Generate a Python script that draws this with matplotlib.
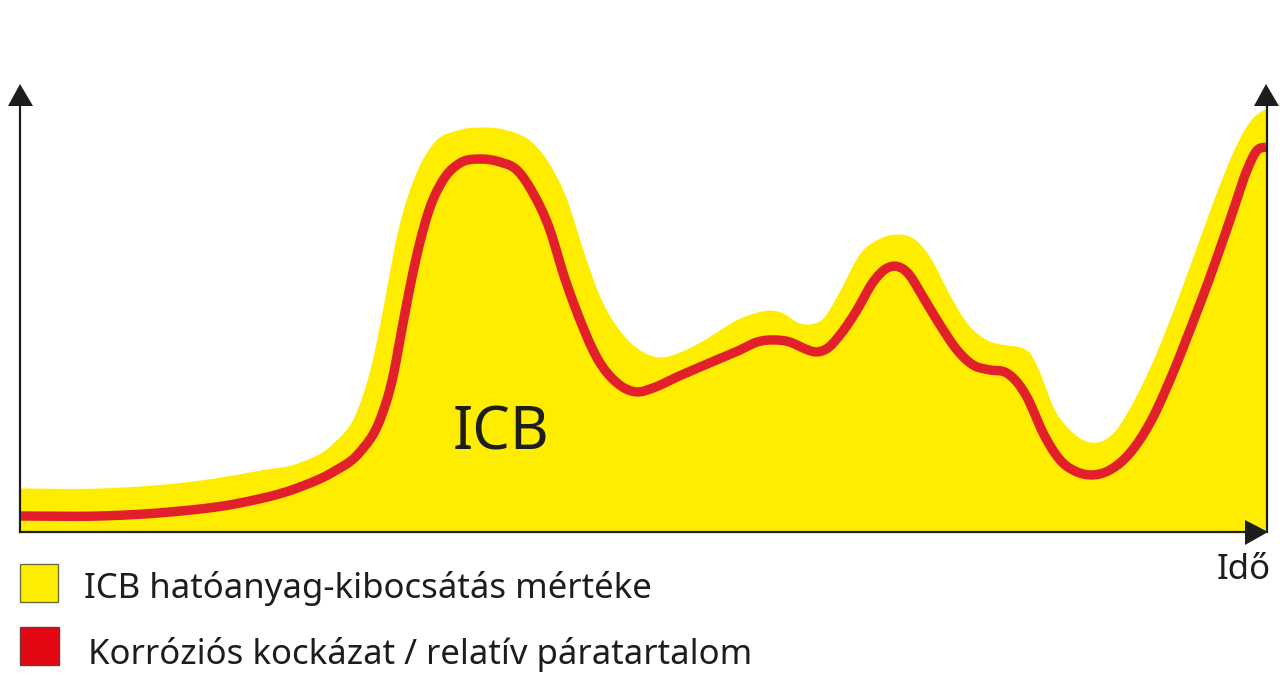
import numpy as np
import matplotlib
matplotlib.use("Agg")
from matplotlib import pyplot as plt
from matplotlib.patches import Rectangle

# values, x = time, y = height above the axis (pixel-like units)
yellow_x = [20, 100, 200, 260, 300, 333, 357, 373, 383, 397, 413, 433, 457, 480, 507, 533, 553, 567, 583, 600, 617, 637, 660, 677, 700, 740, 757, 770, 783, 797, 810, 823, 840, 860, 880, 897, 913, 930, 947, 967, 987, 1007, 1020, 1030, 1040, 1053, 1070, 1097, 1113, 1130, 1153, 1177, 1200, 1220, 1240, 1253, 1266]
yellow_y = [44, 44, 52, 62, 70, 89, 122, 175, 225, 299, 352, 389, 402, 405, 402, 389, 362, 332, 282, 235, 205, 184, 175, 179, 190, 214, 220, 222, 219, 210, 208, 214, 242, 279, 294, 298, 294, 275, 242, 209, 192, 187, 185, 179, 159, 125, 102, 90, 99, 125, 172, 232, 295, 349, 395, 415, 424]
red_x = [20, 100, 170, 240, 300, 333, 360, 380, 393, 403, 415, 428, 443, 460, 480, 500, 517, 533, 550, 563, 580, 597, 617, 637, 653, 677, 700, 740, 757, 777, 790, 803, 817, 828, 840, 857, 873, 887, 895, 907, 923, 940, 957, 973, 990, 1007, 1017, 1027, 1043, 1060, 1077, 1092, 1110, 1130, 1150, 1170, 1190, 1210, 1230, 1247, 1257, 1266]
red_y = [16, 16, 20, 29, 45, 60, 80, 112, 155, 209, 269, 319, 352, 369, 373, 370, 362, 339, 302, 259, 212, 174, 149, 140, 144, 155, 165, 182, 190, 192, 190, 184, 180, 184, 197, 222, 250, 264, 266, 260, 235, 207, 182, 167, 162, 159, 150, 135, 99, 72, 60, 57, 62, 79, 109, 152, 202, 255, 312, 362, 382, 385]

legend_labels = ["ICB hatóanyag-kibocsátás mértéke", "Korróziós kockázat / relatív páratartalom"]
axis_label = "Idő"
area_label = "ICB"

YELLOW = "#ffed00"
RED = "#e2202c"
DARK = "#1d1d1b"

plt.rcParams['font.family'] = ['Noto Sans', 'DejaVu Sans']

fig = plt.figure(figsize=(12.8, 7), dpi=100)
ax = fig.add_axes([0, 0, 1, 1])
ax.set_xlim(0, 1280)
ax.set_ylim(700, 0)
ax.axis('off')
base = 532

# hermite curve through the read points, then a light blur so it looks drawn
xs = np.arange(20, 1267)
def smooth(x, y):
    x = np.array(x, dtype=float)
    y = np.array(y, dtype=float)
    m = np.gradient(y, x)
    i = np.clip(np.searchsorted(x, xs, side='right') - 1, 0, len(x) - 2)
    h = x[i + 1] - x[i]
    t = (xs - x[i]) / h
    v = ((2*t**3 - 3*t**2 + 1) * y[i] + (t**3 - 2*t**2 + t) * h * m[i]
         + (-2*t**3 + 3*t**2) * y[i + 1] + (t**3 - t**2) * h * m[i + 1])
    k = np.hanning(11)
    k = k / k.sum()
    return np.convolve(np.pad(v, 5, mode='edge'), k, mode='valid')

ax.fill_between(xs, base, base - smooth(yellow_x, yellow_y), color=YELLOW, lw=0, zorder=1)
ax.plot(xs, base - smooth(red_x, red_y), color=RED, lw=6.8, zorder=2, solid_capstyle='butt')

# axes with arrow heads
ax.plot([20, 20], [105, base], color=DARK, lw=1.6, zorder=3)
ax.plot([1267, 1267], [105, base], color=DARK, lw=1.6, zorder=3)
ax.plot([20, 1250], [base, base], color=DARK, lw=1.6, zorder=3)
ax.fill([8, 33, 20], [106, 106, 84], color=DARK, lw=0, zorder=4)
ax.fill([1254, 1279, 1266], [106, 106, 84], color=DARK, lw=0, zorder=4)
ax.fill([1245, 1245, 1268], [520, 545, 532], color=DARK, lw=0, zorder=4)

ax.text(501, 426, area_label, fontsize=43, color=DARK, ha='center', va='center_baseline', fontweight='medium')
ax.text(1244, 570, axis_label, fontsize=25, color=DARK, ha='center', va='center', fontweight='medium')

# legend drawn by hand
ax.add_patch(Rectangle((20, 564), 38, 38, fc=YELLOW, ec='#6b6b4a', lw=1))
ax.add_patch(Rectangle((20, 627), 39, 38, fc='#e30613', ec='#6b3a3a', lw=1))
ax.text(84, 588, legend_labels[0], fontsize=25, color=DARK, va='center', fontweight='medium')
ax.text(88, 654, legend_labels[1], fontsize=25, color=DARK, va='center', fontweight='medium')

fig.savefig("out.png", dpi=100)
